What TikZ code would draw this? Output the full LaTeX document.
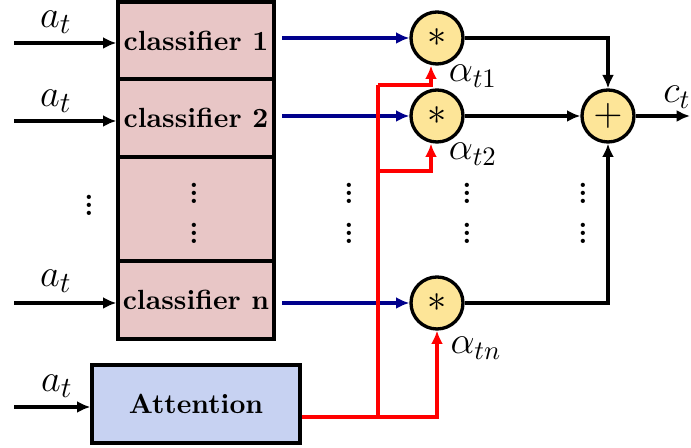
\documentclass[tikz,border=0pt]{standalone}
\usetikzlibrary{arrows.meta}
\definecolor{clsfill}{RGB}{232,198,198}
\definecolor{attfill}{RGB}{199,210,242}
\definecolor{opfill}{RGB}{253,229,152}
\definecolor{bluel}{RGB}{0,0,140}
\newcommand\myvdots{\vbox{\fontsize{11}{11}\bfseries\baselineskip3pt\lineskiplimit0pt\lineskip0pt\hbox{.}\hbox{.}\hbox{.}}}
\begin{document}
\begin{tikzpicture}[x=0.375pt,y=-0.375pt,
  box/.style={draw,line width=1.25pt,fill=clsfill,minimum width=58.5pt,inner sep=0pt,font=\fontsize{10.4}{12}\bfseries},
  attbox/.style={draw,line width=1.25pt,fill=attfill,minimum width=78pt,minimum height=29.25pt,inner sep=0pt,font=\fontsize{10.4}{12}\bfseries},
  op/.style={circle,draw,line width=1.25pt,fill=opfill,minimum size=19.5pt,inner sep=0pt,font=\fontsize{14}{16}\selectfont},
  arr/.style={line width=1.25pt,-{Latex[length=5pt,width=4.5pt]}},
  bluearr/.style={arr,draw=bluel,shorten <=2.5pt},
  redarr/.style={arr,draw=red},
  redl/.style={line width=1.25pt,draw=red},
  lab/.style={inner sep=0pt,font=\fontsize{15}{17}\selectfont},
  alab/.style={inner sep=0pt,font=\fontsize{14.5}{16}\selectfont},
  dts/.style={inner sep=0pt}]
\useasboundingbox (0,0) rectangle (691,448);
% classifier stack
\node[box,minimum height=28.9pt] (c1) at (196,40.5) {classifier 1};
\node[box,minimum height=29.25pt] (c2) at (196,118) {classifier 2};
\node[box,minimum height=39pt] (cd) at (196,209) {};
\node[box,minimum height=29.25pt] (cn) at (196,300) {classifier n};
\node[dts] (cd1) at (194,193) {\myvdots};
\node[dts] (cd2) at (194,233) {\myvdots};
\node[attbox] (att) at (196,404) {Attention};
% inputs
\coordinate (i1) at (14,43);
\coordinate (i2) at (14,121);
\coordinate (in) at (14,303);
\coordinate (ia) at (14,407);
\draw[arr] (i1) -- (i1 -| c1.west);
\draw[arr] (i2) -- (i2 -| c2.west);
\draw[arr] (in) -- (in -| cn.west);
\draw[arr] (ia) -- (ia -| att.west);
\node[lab] (a1) at (56,22) {$a_t$};
\node[lab] (a2) at (56,101) {$a_t$};
\node[lab] (an) at (56,281) {$a_t$};
\node[lab] (aa) at (57,386) {$a_t$};
\node[dts] (ld) at (89,205) {\myvdots};
% operators
\node[op] (m1) at (437,38) {$*$};
\node[op] (m2) at (437,116) {$*$};
\node[op] (mn) at (437,303) {$*$};
\node[op] (p) at (608,116) {$+$};
\node[alab] (al1) at (473,76) {$\alpha_{t1}$};
\node[alab] (al2) at (473,154) {$\alpha_{t2}$};
\node[alab] (aln) at (476,348) {$\alpha_{tn}$};
% dots columns
\foreach \x/\n in {349/a,467/b,583/c}{
  \node[dts] (d\n1) at (\x,193) {\myvdots};
  \node[dts] (d\n2) at (\x,233) {\myvdots};
}
% blue
\draw[bluearr] (c1.east |- m1.west) -- (m1.west);
\draw[bluearr] (c2.east |- m2.west) -- (m2.west);
\draw[bluearr] (cn.east |- mn.west) -- (mn.west);
% black
\draw[arr] (m1.east) -| (p.north);
\draw[arr] (m2.east) -- (p.west);
\draw[arr] (mn.east) -| (p.south);
\coordinate (out) at (690,116);
\draw[arr] (p.east) -- (out);
\node[alab] (ct) at (677,97) {$c_t$};
% red
\coordinate (ra) at (378,417);
\coordinate (rb) at (378,171);
\coordinate (rc) at (378,85);
\draw[redarr] (att.east |- ra) -- (ra) -| (mn.south);
\draw[redl] (ra) -- (rc);
\draw[redarr] (rc) -| ([xshift=-2.25pt]m1.south);
\draw[redarr] (rb) -| ([xshift=-2.25pt]m2.south);
\end{tikzpicture}
\end{document}
